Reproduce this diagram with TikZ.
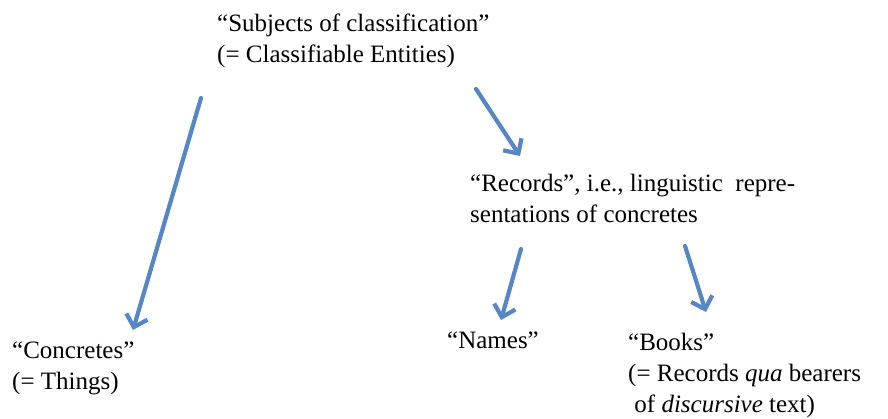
\documentclass[tikz,border=0pt]{standalone}
\usepackage{fontspec}
\setmainfont{Liberation Serif}
\usetikzlibrary{arrows.meta}
\definecolor{arrowblue}{RGB}{86,135,196}
\tikzset{
  label/.style={anchor=base west, inner sep=0pt, font=\fontsize{25pt}{31pt}\selectfont, align=left},
  link/.style={draw=arrowblue, line width=4.2pt, line cap=round,
    -{Straight Barb[length=11pt, width=22pt, line width=4.2pt]}},
}
\begin{document}
\begin{tikzpicture}[x=1pt, y=-1pt]
\useasboundingbox (0,0) rectangle (888,419);
% texts (each anchored at the baseline of its last line)
\node[label] (subj) at (217,63) {“Subjects of classification”\\(= Classifiable Entities)};
\node[label] (rec) at (470,223) {“Records”, i.e., linguistic\ \ repre-\\sentations of concretes};
\node[label] (conc) at (12,389) {“Concretes”\\(= Things)};
\node[label] (names) at (447,348) {“Names”};
\node[label] (books) at (628,412) {“Books”\\(= Records \textit{qua} bearers\\\ of \textit{discursive} text)};
% arrow end points
\coordinate (s1) at (201,98);  \coordinate (e1) at (133,330);
\coordinate (s2) at (476,89);  \coordinate (e2) at (520,156);
\coordinate (s3) at (521,249); \coordinate (e3) at (501,320);
\coordinate (s4) at (685,246); \coordinate (e4) at (706,312);
\draw[link] (s1) -- (e1);
\draw[link] (s2) -- (e2);
\draw[link] (s3) -- (e3);
\draw[link] (s4) -- (e4);
\end{tikzpicture}
\end{document}
